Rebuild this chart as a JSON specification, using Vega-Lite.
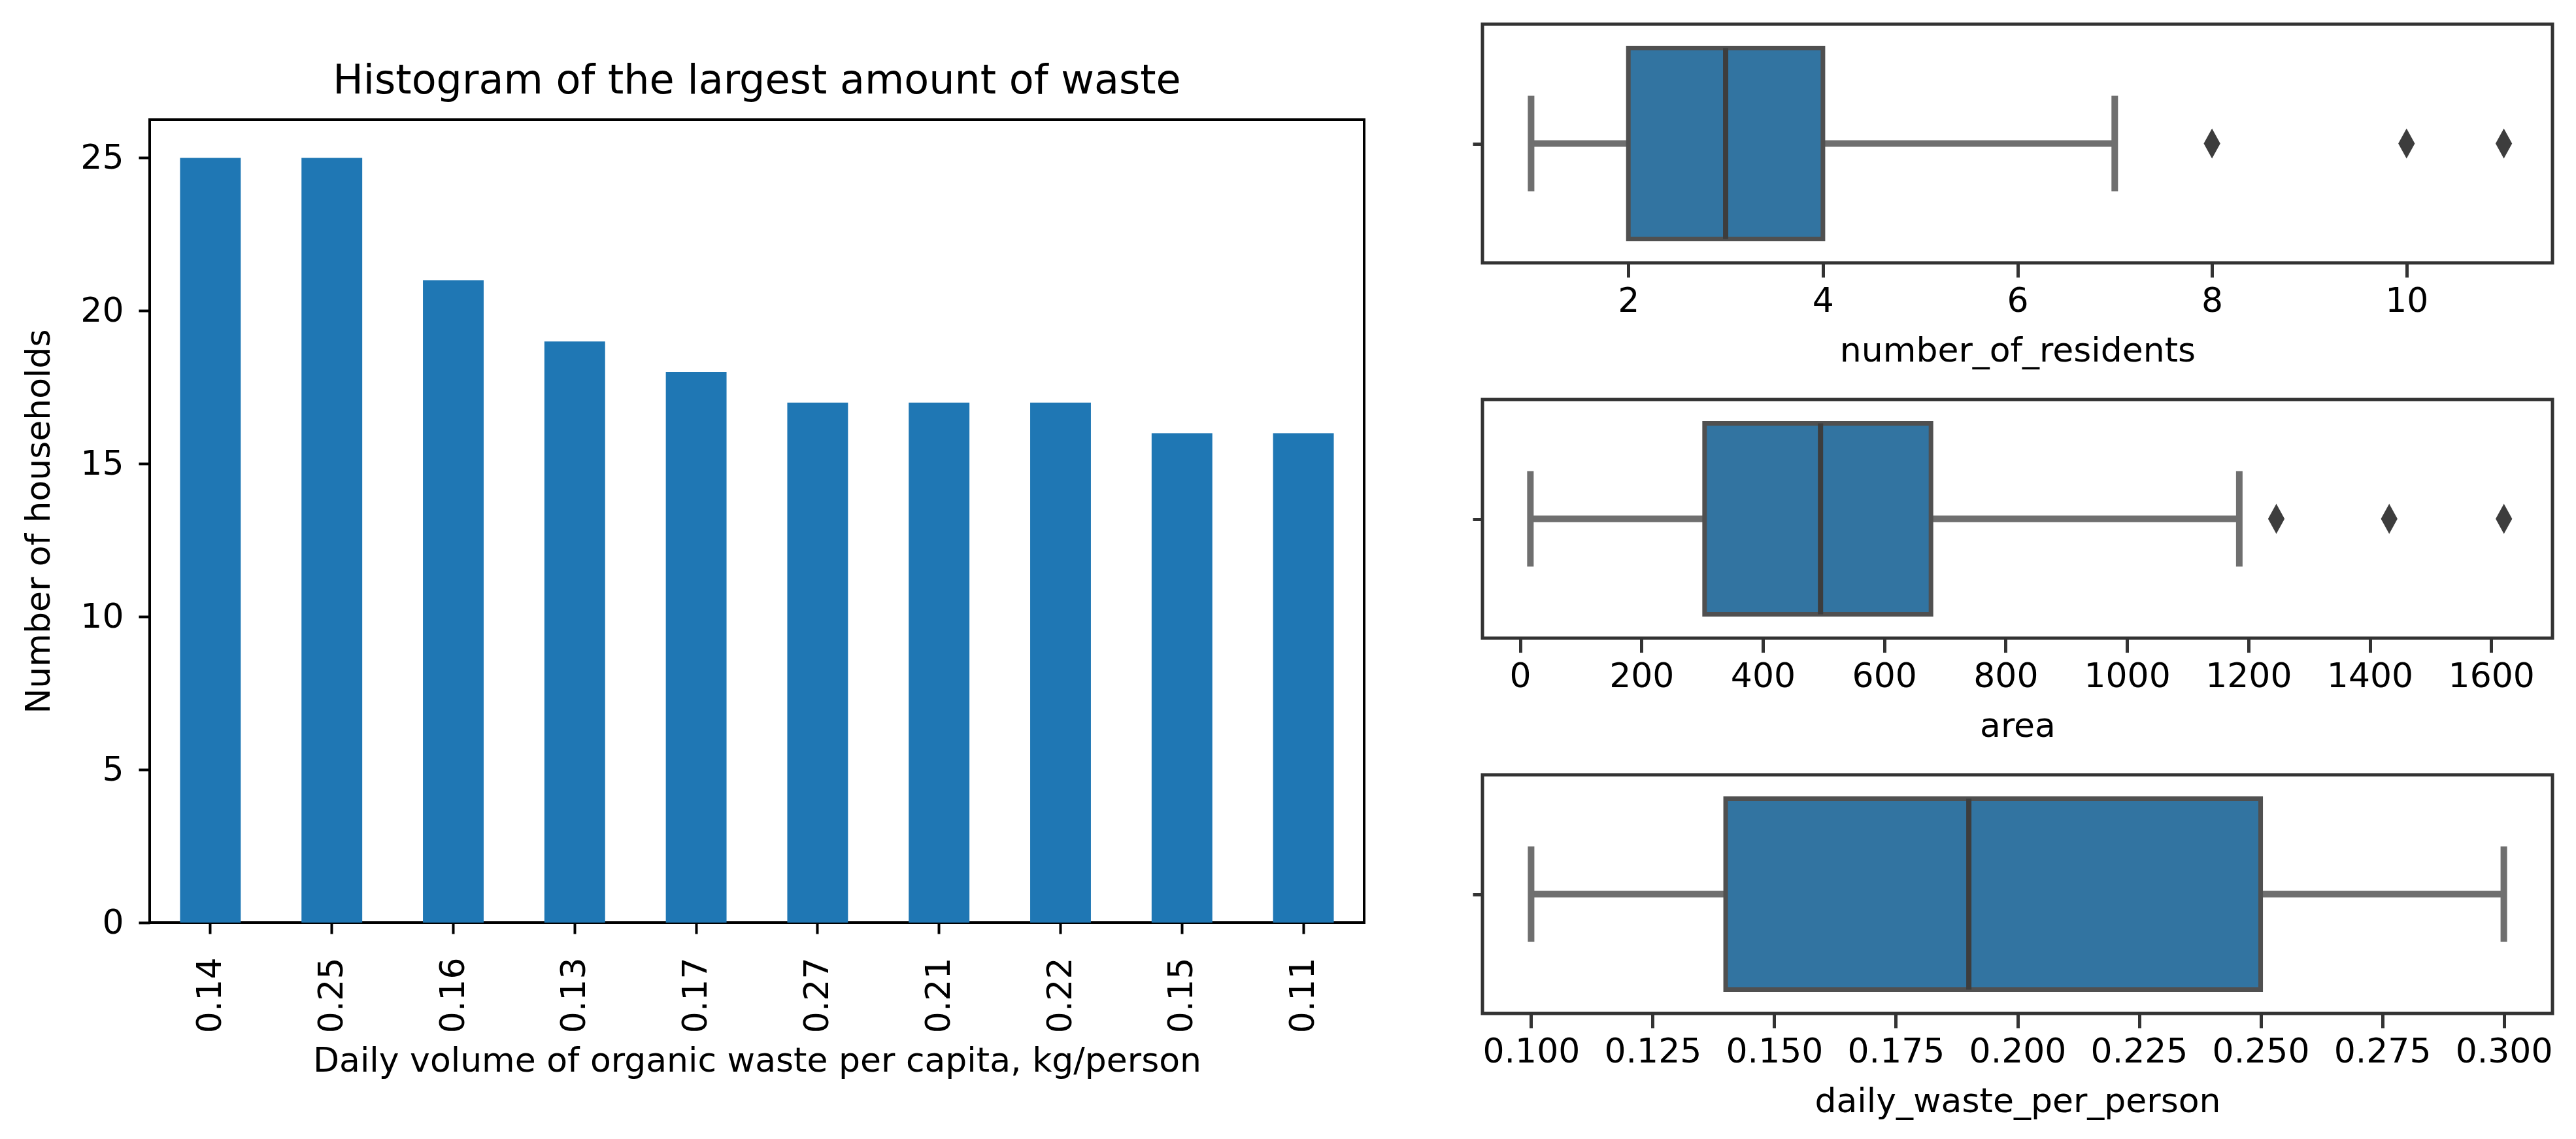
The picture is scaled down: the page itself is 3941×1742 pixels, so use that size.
{
  "$schema": "https://vega.github.io/schema/vega-lite/v6.json",
  "padding": {"left": 31, "top": 34, "right": 5, "bottom": 5},
  "background": "white",
  "config": {
    "font": "DejaVu Sans",
    "view": {"stroke": null},
    "axis": {"grid": false, "labelFont": "DejaVu Sans", "titleFont": "DejaVu Sans", "labelColor": "#000000", "titleColor": "#000000", "titleFontWeight": "normal", "labelFontSize": 52, "titleFontSize": 52, "labelOverlap": false, "labelFlush": false}
  },
  "datasets": {
    "bars": [
      {"waste": "0.14", "households": 25},
      {"waste": "0.25", "households": 25},
      {"waste": "0.16", "households": 21},
      {"waste": "0.13", "households": 19},
      {"waste": "0.17", "households": 18},
      {"waste": "0.27", "households": 17},
      {"waste": "0.21", "households": 17},
      {"waste": "0.22", "households": 17},
      {"waste": "0.15", "households": 16},
      {"waste": "0.11", "households": 16}
    ],
    "boxes": [
      {"var": "number_of_residents", "lo": 1, "q1": 2, "med": 3, "q3": 4, "hi": 7},
      {"var": "area", "lo": 17, "q1": 304, "med": 495, "q3": 677, "hi": 1185},
      {"var": "daily_waste_per_person", "lo": 0.10, "q1": 0.14, "med": 0.19, "q3": 0.25, "hi": 0.30}
    ],
    "outliers": [
      {"var": "number_of_residents", "value": 8},
      {"var": "number_of_residents", "value": 10},
      {"var": "number_of_residents", "value": 11},
      {"var": "area", "value": 1246},
      {"var": "area", "value": 1432},
      {"var": "area", "value": 1621}
    ]
  },
  "spacing": 159,
  "hconcat": [
    {
      "bounds": "flush",
      "spacing": 0,
      "vconcat": [
        {
          "data": {"values": []},
          "width": 1858,
          "height": 146,
          "mark": "point"
        },
        {
          "data": {"name": "bars"},
          "width": 1858,
          "height": 1228,
          "title": {"text": "Histogram of the largest amount of waste", "fontSize": 62, "fontWeight": "normal", "font": "DejaVu Sans", "color": "#000000", "offset": 27, "anchor": "middle"},
          "view": {"stroke": "#000000", "strokeWidth": 4},
          "mark": {"type": "bar", "color": "#1f77b4"},
          "encoding": {
            "x": {"field": "waste", "type": "nominal", "sort": null, "scale": {"paddingInner": 0.5, "paddingOuter": 0.25},
              "axis": {"title": "Daily volume of organic waste per capita, kg/person", "labelAngle": 270, "tickSize": 17, "tickWidth": 4, "tickColor": "#000000", "domain": false, "labelPadding": 36, "titlePadding": 18}},
            "y": {"field": "households", "type": "quantitative", "scale": {"domain": [0, 26.25], "nice": false},
              "axis": {"values": [0, 5, 10, 15, 20, 25], "title": "Number of households", "tickSize": 17, "tickWidth": 4, "tickColor": "#000000", "domain": false, "labelPadding": 23, "titlePadding": 36}}
          }
        }
      ]
    },
    {
      "spacing": 209,
      "bounds": "flush",
      "vconcat": [
        {
          "width": 1637, "height": 365,
          "view": {"stroke": "#333333", "strokeWidth": 5},
          "layer": [
            {"data": {"name": "boxes"}, "transform": [{"filter": "datum.var === 'number_of_residents'"}],
             "mark": {"type": "rule", "color": "#6f6f6f", "strokeWidth": 10},
             "encoding": {
               "x": {"field": "lo", "type": "quantitative", "scale": {"domain": [0.5, 11.5], "nice": false, "zero": false},
                 "axis": {"title": "number_of_residents", "values": [2, 4, 6, 8, 10], "format": "d", "tickSize": 22, "tickWidth": 5, "tickColor": "#333333", "domain": false, "labelPadding": 11, "titlePadding": 25}},
               "x2": {"field": "hi"},
               "y": {"datum": 0, "type": "quantitative", "scale": {"domain": [-0.5, 0.5], "nice": false, "zero": false},
                 "axis": {"values": [0], "labels": false, "ticks": true, "tickSize": 15, "tickWidth": 5, "tickColor": "#333333", "domain": false, "title": null}}
             }},
            {"data": {"name": "boxes"}, "transform": [{"filter": "datum.var === 'number_of_residents'"}],
             "mark": {"type": "rule", "color": "#6f6f6f", "strokeWidth": 10},
             "encoding": {"x": {"field": "lo", "type": "quantitative"}, "y": {"datum": -0.2, "type": "quantitative"}, "y2": {"datum": 0.2}}},
            {"data": {"name": "boxes"}, "transform": [{"filter": "datum.var === 'number_of_residents'"}],
             "mark": {"type": "rule", "color": "#6f6f6f", "strokeWidth": 10},
             "encoding": {"x": {"field": "hi", "type": "quantitative"}, "y": {"datum": -0.2, "type": "quantitative"}, "y2": {"datum": 0.2}}},
            {"data": {"name": "boxes"}, "transform": [{"filter": "datum.var === 'number_of_residents'"}],
             "mark": {"type": "bar", "fill": "#3274a1", "stroke": "#505050", "strokeWidth": 7},
             "encoding": {"x": {"field": "q1", "type": "quantitative"}, "x2": {"field": "q3"}, "y": {"datum": -0.4, "type": "quantitative"}, "y2": {"datum": 0.4}}},
            {"data": {"name": "boxes"}, "transform": [{"filter": "datum.var === 'number_of_residents'"}],
             "mark": {"type": "rule", "color": "#3d3d3d", "strokeWidth": 8},
             "encoding": {"x": {"field": "med", "type": "quantitative"}, "y": {"datum": -0.4, "type": "quantitative"}, "y2": {"datum": 0.4}}},
            {"data": {"name": "outliers"}, "transform": [{"filter": "datum.var === 'number_of_residents'"}],
             "mark": {"type": "point", "shape": "M0,-1L0.55,0L0,1L-0.55,0Z", "filled": true, "color": "#3d3d3d", "opacity": 1, "size": 2116},
             "encoding": {"x": {"field": "value", "type": "quantitative"}, "y": {"datum": 0, "type": "quantitative"}}}
          ]
        },
        {
          "width": 1637, "height": 365,
          "view": {"stroke": "#333333", "strokeWidth": 5},
          "layer": [
            {"data": {"name": "boxes"}, "transform": [{"filter": "datum.var === 'area'"}],
             "mark": {"type": "rule", "color": "#6f6f6f", "strokeWidth": 10},
             "encoding": {
               "x": {"field": "lo", "type": "quantitative", "scale": {"domain": [-62, 1701], "nice": false, "zero": false},
                 "axis": {"title": "area", "values": [0, 200, 400, 600, 800, 1000, 1200, 1400, 1600], "tickSize": 22, "tickWidth": 5, "tickColor": "#333333", "domain": false, "labelPadding": 11, "titlePadding": 25, "format": "d"}},
               "x2": {"field": "hi"},
               "y": {"datum": 0, "type": "quantitative", "scale": {"domain": [-0.5, 0.5], "nice": false, "zero": false},
                 "axis": {"values": [0], "labels": false, "ticks": true, "tickSize": 15, "tickWidth": 5, "tickColor": "#333333", "domain": false, "title": null}}
             }},
            {"data": {"name": "boxes"}, "transform": [{"filter": "datum.var === 'area'"}],
             "mark": {"type": "rule", "color": "#6f6f6f", "strokeWidth": 10},
             "encoding": {"x": {"field": "lo", "type": "quantitative"}, "y": {"datum": -0.2, "type": "quantitative"}, "y2": {"datum": 0.2}}},
            {"data": {"name": "boxes"}, "transform": [{"filter": "datum.var === 'area'"}],
             "mark": {"type": "rule", "color": "#6f6f6f", "strokeWidth": 10},
             "encoding": {"x": {"field": "hi", "type": "quantitative"}, "y": {"datum": -0.2, "type": "quantitative"}, "y2": {"datum": 0.2}}},
            {"data": {"name": "boxes"}, "transform": [{"filter": "datum.var === 'area'"}],
             "mark": {"type": "bar", "fill": "#3274a1", "stroke": "#505050", "strokeWidth": 7},
             "encoding": {"x": {"field": "q1", "type": "quantitative"}, "x2": {"field": "q3"}, "y": {"datum": -0.4, "type": "quantitative"}, "y2": {"datum": 0.4}}},
            {"data": {"name": "boxes"}, "transform": [{"filter": "datum.var === 'area'"}],
             "mark": {"type": "rule", "color": "#3d3d3d", "strokeWidth": 8},
             "encoding": {"x": {"field": "med", "type": "quantitative"}, "y": {"datum": -0.4, "type": "quantitative"}, "y2": {"datum": 0.4}}},
            {"data": {"name": "outliers"}, "transform": [{"filter": "datum.var === 'area'"}],
             "mark": {"type": "point", "shape": "M0,-1L0.55,0L0,1L-0.55,0Z", "filled": true, "color": "#3d3d3d", "opacity": 1, "size": 2116},
             "encoding": {"x": {"field": "value", "type": "quantitative"}, "y": {"datum": 0, "type": "quantitative"}}}
          ]
        },
        {
          "width": 1637, "height": 365,
          "view": {"stroke": "#333333", "strokeWidth": 5},
          "layer": [
            {"data": {"name": "boxes"}, "transform": [{"filter": "datum.var === 'daily_waste_per_person'"}],
             "mark": {"type": "rule", "color": "#6f6f6f", "strokeWidth": 10},
             "encoding": {
               "x": {"field": "lo", "type": "quantitative", "scale": {"domain": [0.09, 0.31], "nice": false, "zero": false},
                 "axis": {"title": "daily_waste_per_person", "values": [0.1, 0.125, 0.15, 0.175, 0.2, 0.225, 0.25, 0.275, 0.3], "format": ".3f", "tickSize": 22, "tickWidth": 5, "tickColor": "#333333", "domain": false, "labelPadding": 11, "titlePadding": 25}},
               "x2": {"field": "hi"},
               "y": {"datum": 0, "type": "quantitative", "scale": {"domain": [-0.5, 0.5], "nice": false, "zero": false},
                 "axis": {"values": [0], "labels": false, "ticks": true, "tickSize": 15, "tickWidth": 5, "tickColor": "#333333", "domain": false, "title": null}}
             }},
            {"data": {"name": "boxes"}, "transform": [{"filter": "datum.var === 'daily_waste_per_person'"}],
             "mark": {"type": "rule", "color": "#6f6f6f", "strokeWidth": 10},
             "encoding": {"x": {"field": "lo", "type": "quantitative"}, "y": {"datum": -0.2, "type": "quantitative"}, "y2": {"datum": 0.2}}},
            {"data": {"name": "boxes"}, "transform": [{"filter": "datum.var === 'daily_waste_per_person'"}],
             "mark": {"type": "rule", "color": "#6f6f6f", "strokeWidth": 10},
             "encoding": {"x": {"field": "hi", "type": "quantitative"}, "y": {"datum": -0.2, "type": "quantitative"}, "y2": {"datum": 0.2}}},
            {"data": {"name": "boxes"}, "transform": [{"filter": "datum.var === 'daily_waste_per_person'"}],
             "mark": {"type": "bar", "fill": "#3274a1", "stroke": "#505050", "strokeWidth": 7},
             "encoding": {"x": {"field": "q1", "type": "quantitative"}, "x2": {"field": "q3"}, "y": {"datum": -0.4, "type": "quantitative"}, "y2": {"datum": 0.4}}},
            {"data": {"name": "boxes"}, "transform": [{"filter": "datum.var === 'daily_waste_per_person'"}],
             "mark": {"type": "rule", "color": "#3d3d3d", "strokeWidth": 8},
             "encoding": {"x": {"field": "med", "type": "quantitative"}, "y": {"datum": -0.4, "type": "quantitative"}, "y2": {"datum": 0.4}}}
          ]
        }
      ]
    }
  ]
}
